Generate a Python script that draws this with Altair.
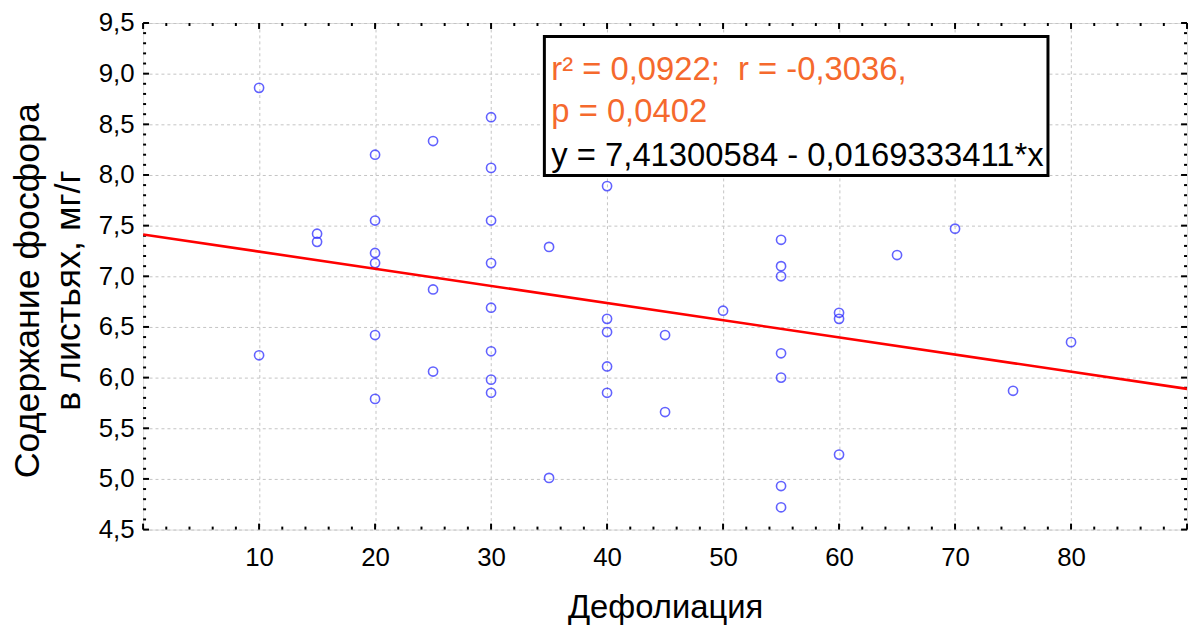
import altair as alt
import numpy as np
import pandas as pd

# ---- data ----
defol = [10, 10, 15, 15,
         20, 20, 20, 20, 20, 20,
         25, 25, 25,
         30, 30, 30, 30, 30, 30, 30, 30,
         35, 35,
         40, 40, 40, 40, 40,
         45, 45, 50,
         55, 55, 55, 55, 55, 55, 55,
         60, 60, 60, 65, 70, 75, 80]
phos = [8.86, 6.22, 7.42, 7.34,
        8.20, 7.55, 7.23, 7.13, 6.42, 5.79,
        8.335, 6.87, 6.06,
        8.57, 8.07, 7.55, 7.13, 6.69, 6.26, 5.98, 5.85,
        7.29, 5.01,
        7.89, 6.58, 6.45, 6.11, 5.85,
        6.42, 5.66, 6.66,
        7.36, 7.10, 7.00, 6.24, 6.00, 4.93, 4.72,
        6.64, 6.58, 5.24, 7.21, 7.47, 5.87, 6.35]

intercept = 7.41300584
slope = -0.0169333411
line_x = [0, 90]

x_labels = [10, 20, 30, 40, 50, 60, 70, 80]
y_labels = [4.5, 5.0, 5.5, 6.0, 6.5, 7.0, 7.5, 8.0, 8.5, 9.0, 9.5]

line1 = "r² = 0,0922;\u00a0 r = -0,3036,"
line2 = "p = 0,0402"
line3 = "y = 7,41300584 - 0,0169333411*x"

# ---- frames ----
pts = pd.DataFrame({"x": defol, "y": phos})
reg = pd.DataFrame({"x": line_x, "y": [intercept + slope * v for v in line_x]})

W, H = 1051, 510
FONT = "Liberation Sans"

xmaj = np.arange(0, 91, 10)
xmin = np.array([v for v in np.arange(0, 91, 2) if v % 10 != 0])
ymaj = np.round(np.arange(4.5, 9.51, 0.5), 2)
ymin = np.array([v for v in np.round(np.arange(4.5, 9.51, 0.1), 2)
                 if abs(v * 2 - round(v * 2)) > 1e-6])

xs = alt.Scale(domain=[0, 90], nice=False, zero=False)
ys = alt.Scale(domain=[4.5, 9.5], nice=False, zero=False)

ax_x = alt.Axis(values=x_labels, labelExpr="format(datum.value, '.0f')",
                ticks=False, tickSize=0, domain=False, labelPadding=15,
                labelFontSize=26, labelFont=FONT, labelColor="black",
                grid=True, gridDash=[3, 3], gridColor="#c4c4c4", gridWidth=1,
                title="Дефолиация", titleFont=FONT, titleFontSize=33,
                titleFontWeight="normal", titleColor="black",
                titleX=W / 2, titleY=89, titleBaseline="alphabetic",
                titleAlign="center")
ax_y = alt.Axis(values=y_labels,
                labelExpr="replace(format(datum.value, '.1f'), '.', ',')",
                ticks=False, tickSize=0, domain=False, labelPadding=9,
                labelFontSize=26, labelFont=FONT, labelColor="black",
                grid=True, gridDash=[3, 3], gridColor="#c4c4c4", gridWidth=1,
                title=["Содержание фосфора", "в листьях, мг/г"],
                titleFont=FONT, titleFontSize=36, titleFontWeight="normal",
                titleColor="black", titleLineHeight=41,
                titleX=-116, titleY=H / 2 + 14, titleBaseline="middle",
                titleAlign="center")

X = alt.X("x:Q", scale=xs, axis=ax_x)
Y = alt.Y("y:Q", scale=ys, axis=ax_y)

points = alt.Chart(pts).mark_point(shape="circle", filled=False, size=85,
                                   strokeWidth=1.6, color="#2020ff").encode(x=X, y=Y)

regline = alt.Chart(reg).mark_line(color="#ff0000", strokeWidth=2.6, clip=True).encode(x=X, y=Y)


def xticks(vals, length):
    df = pd.DataFrame({"x": vals})
    b = alt.Chart(df).mark_rule(color="black", strokeWidth=2).encode(
        x=X, y=alt.value(H), y2=alt.value(H - length))
    t = alt.Chart(df).mark_rule(color="black", strokeWidth=2).encode(
        x=X, y=alt.value(0), y2=alt.value(length))
    return [b, t]


def yticks(vals, length):
    df = pd.DataFrame({"y": vals})
    l = alt.Chart(df).mark_rule(color="black", strokeWidth=2).encode(
        y=Y, x=alt.value(0), x2=alt.value(length))
    r = alt.Chart(df).mark_rule(color="black", strokeWidth=2).encode(
        y=Y, x=alt.value(W), x2=alt.value(W - length))
    return [l, r]


ticks = xticks(xmaj, 6) + xticks(xmin, 3) + yticks(ymaj, 6) + yticks(ymin, 3)

one = pd.DataFrame({"k": [0]})
box = alt.Chart(one).mark_rect(fill="white", stroke="black", strokeWidth=3).encode(
    x=alt.value(404), x2=alt.value(911), y=alt.value(13.5), y2=alt.value(153.5))


def label(txt, ypix, color):
    return alt.Chart(one).mark_text(align="left", baseline="alphabetic",
                                    font=FONT, fontSize=33, color=color).encode(
        x=alt.value(411), y=alt.value(ypix), text=alt.value(txt))


texts = [label(line1, 57, "#f5692d"), label(line2, 100, "#f5692d"),
         label(line3, 144, "black")]

chart = alt.layer(points, *ticks, regline, box, *texts).properties(
    width=W, height=H, autosize="none",
    padding={"left": 136, "top": 13, "right": 5, "bottom": 100},
).configure_view(stroke="black", strokeWidth=2).configure(background="white")

chart.save("out.html", embed_options={"renderer": "svg", "actions": False})
